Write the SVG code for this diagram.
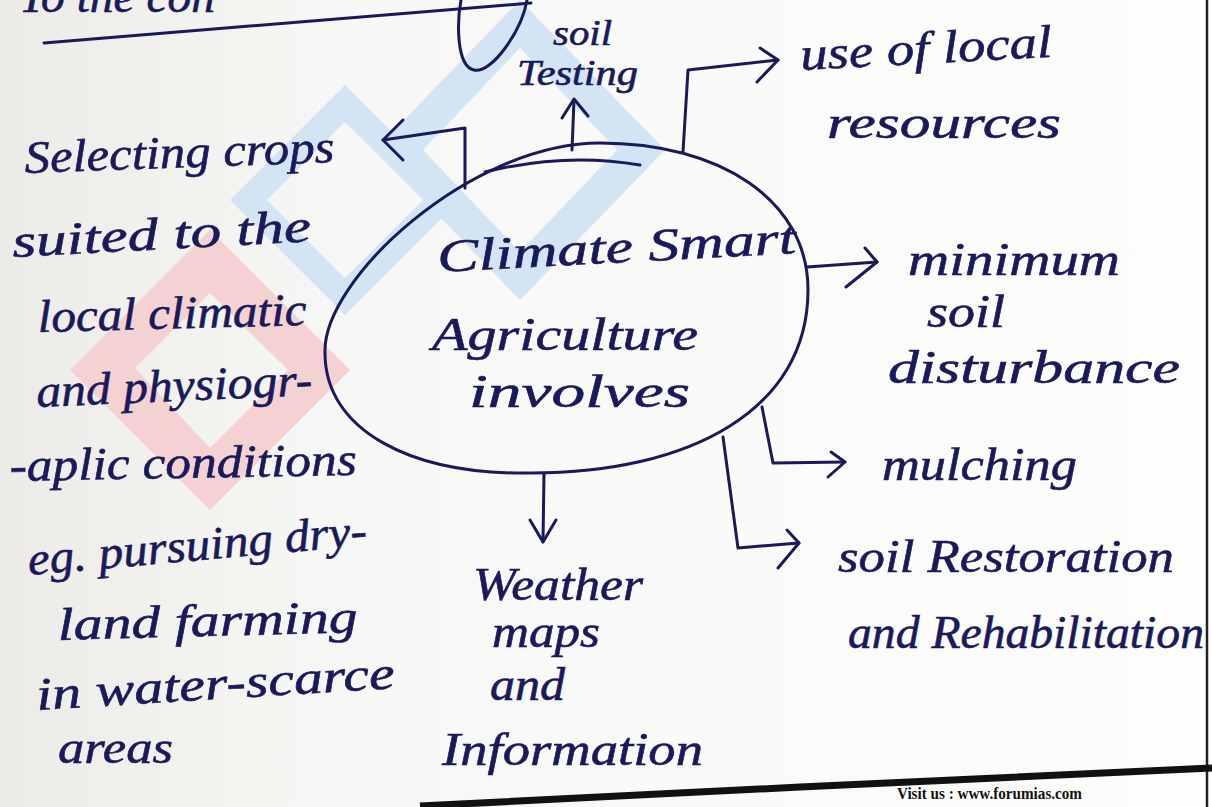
<svg xmlns="http://www.w3.org/2000/svg" width="1212" height="807" viewBox="0 0 1212 807">
  <defs>
    <linearGradient id="paper" x1="0" y1="0" x2="1" y2="0">
      <stop offset="0" stop-color="#ecebe7"/>
      <stop offset="0.28" stop-color="#f7f7f5"/>
      <stop offset="1" stop-color="#fdfdfc"/>
    </linearGradient>
    <style>
      .ink { fill: #1a195c; stroke: #1a195c; stroke-width: 0.6px; font-family: "Liberation Serif", "DejaVu Serif", serif; font-style: italic; font-size: 46px; }
      .small { font-size: 36px; }
      .pen { fill: none; stroke: #1a195c; stroke-width: 3; stroke-linecap: round; stroke-linejoin: round; }
      .mark-blue { fill: #d3e5f4; fill-rule: evenodd; }
      .mark-red { fill: #f5d2d2; fill-rule: evenodd; }
      .footer { fill: #111; font-family: "Liberation Serif", serif; font-weight: bold; font-size: 16px; }
    </style>
  </defs>

  <!-- page -->
  <rect x="0" y="0" width="1212" height="807" fill="url(#paper)"/>

  <!-- faint background logo -->
  <g id="watermark">
    <path class="mark-blue" d="M345 85 L460 200 L345 315 L230 200 Z M345 122 L423 200 L345 278 L267 200 Z"/>
    <path class="mark-blue" d="M520 0 L665 150 L520 300 L375 150 Z M520 48 L617 150 L520 252 L423 150 Z"/>
    <path class="mark-red" d="M70 370 L210 230 L350 370 L210 510 Z M135 368 L210 293 L288 370 L210 448 Z"/>
  </g>

  <!-- heading line running off the top edge -->
  <g id="heading">
    <text class="ink" x="19" y="12" textLength="196" lengthAdjust="spacingAndGlyphs">To the con</text>
    <path class="pen" d="M44 43 Q300 22 531 3"/>
    <path class="pen" d="M527 0 C522 30 492 74 474 70 C456 66 457 22 461 0"/>
  </g>

  <!-- connectors -->
  <g id="connectors">
    <path class="pen" d="M325 353 C322 280 470 143 600 143 C720 143 808 200 808 290 C808 410 690 473 531 473 C410 475 325 430 325 353 Z"/>
    <path class="pen" d="M485 172 Q565 152 640 165"/>
    <!-- to crop selection -->
    <path class="pen" d="M465 188 L465 128 L383 140"/>
    <path class="pen" d="M403 120 L383 140 L403 160"/>
    <!-- to soil testing -->
    <path class="pen" d="M572 150 L574 100"/>
    <path class="pen" d="M562 118 L574 99 L588 116"/>
    <!-- to local resources -->
    <path class="pen" d="M683 152 L688 70 L778 60"/>
    <path class="pen" d="M760 48 L778 60 L757 82"/>
    <!-- to minimum soil disturbance -->
    <path class="pen" d="M807 267 L877 262"/>
    <path class="pen" d="M865 248 L877 262 L846 287"/>
    <!-- to mulching -->
    <path class="pen" d="M762 407 L773 463 L845 462"/>
    <path class="pen" d="M831 452 L845 462 L828 477"/>
    <!-- to soil restoration -->
    <path class="pen" d="M723 437 L738 548 L799 543"/>
    <path class="pen" d="M787 530 L799 543 L778 568"/>
    <!-- to weather maps -->
    <path class="pen" d="M544 473 L543 542"/>
    <path class="pen" d="M530 520 L543 542 L556 520"/>
  </g>

  <g id="centre">
    <text class="ink" x="438" y="272" transform="rotate(-3 438 272)" textLength="359" lengthAdjust="spacingAndGlyphs">Climate Smart</text>
    <text class="ink" x="432" y="350" textLength="266" lengthAdjust="spacingAndGlyphs">Agriculture</text>
    <text class="ink" x="469" y="407" textLength="221" lengthAdjust="spacingAndGlyphs">involves</text>
  </g>

  <g id="soil-testing">
    <text class="ink small" x="553" y="45" textLength="59" lengthAdjust="spacingAndGlyphs">soil</text>
    <text class="ink small" x="517" y="85" textLength="121" lengthAdjust="spacingAndGlyphs">Testing</text>
  </g>

  <g id="local-resources">
    <text class="ink" x="801" y="70" transform="rotate(-3 801 70)" textLength="252" lengthAdjust="spacingAndGlyphs">use of local</text>
    <text class="ink" x="827" y="138" textLength="234" lengthAdjust="spacingAndGlyphs">resources</text>
  </g>

  <g id="crop-selection">
    <text class="ink" x="25" y="173" transform="rotate(-2 25 173)" textLength="310" lengthAdjust="spacingAndGlyphs">Selecting crops</text>
    <text class="ink" x="13" y="257" transform="rotate(-3 13 257)" textLength="299" lengthAdjust="spacingAndGlyphs">suited to the</text>
    <text class="ink" x="38" y="332" transform="rotate(-1.5 38 332)" textLength="269" lengthAdjust="spacingAndGlyphs">local climatic</text>
    <text class="ink" x="37" y="407" transform="rotate(-2.5 37 407)" textLength="276" lengthAdjust="spacingAndGlyphs">and physiogr-</text>
    <text class="ink" x="10" y="481" transform="rotate(-1 10 481)" textLength="347" lengthAdjust="spacingAndGlyphs">-aplic conditions</text>
    <text class="ink" x="29" y="575" transform="rotate(-5 29 575)" textLength="340" lengthAdjust="spacingAndGlyphs">eg. pursuing dry-</text>
    <text class="ink" x="58" y="640" transform="rotate(-1.5 58 640)" textLength="300" lengthAdjust="spacingAndGlyphs">land farming</text>
    <text class="ink" x="37" y="710" transform="rotate(-3.5 37 710)" textLength="359" lengthAdjust="spacingAndGlyphs">in water-scarce</text>
    <text class="ink" x="58" y="763" textLength="115" lengthAdjust="spacingAndGlyphs">areas</text>
  </g>

  <g id="soil-disturbance">
    <text class="ink" x="908" y="275" textLength="212" lengthAdjust="spacingAndGlyphs">minimum</text>
    <text class="ink" x="927" y="327" textLength="78" lengthAdjust="spacingAndGlyphs">soil</text>
    <text class="ink" x="888" y="383" textLength="292" lengthAdjust="spacingAndGlyphs">disturbance</text>
  </g>

  <g id="mulching">
    <text class="ink" x="882" y="480" textLength="195" lengthAdjust="spacingAndGlyphs">mulching</text>
  </g>

  <g id="soil-restoration">
    <text class="ink" x="838" y="572" textLength="336" lengthAdjust="spacingAndGlyphs">soil Restoration</text>
    <text class="ink" x="848" y="648" textLength="356" lengthAdjust="spacingAndGlyphs">and Rehabilitation</text>
  </g>

  <g id="weather">
    <text class="ink" x="473" y="600" textLength="170" lengthAdjust="spacingAndGlyphs">Weather</text>
    <text class="ink" x="492" y="647" textLength="108" lengthAdjust="spacingAndGlyphs">maps</text>
    <text class="ink" x="490" y="700" textLength="75" lengthAdjust="spacingAndGlyphs">and</text>
    <text class="ink" x="442" y="765" textLength="261" lengthAdjust="spacingAndGlyphs">Information</text>
  </g>

  <!-- page frame and footer -->
  <g id="frame">
    <line x1="1207" y1="0" x2="1207" y2="807" stroke="#222" stroke-width="2.5"/>
    <path d="M420 806 L800 787 L1212 768" fill="none" stroke="#111" stroke-width="7"/>
    <text class="footer" x="897" y="799" textLength="185" lengthAdjust="spacingAndGlyphs">Visit us : www.forumias.com</text>
  </g>
</svg>
